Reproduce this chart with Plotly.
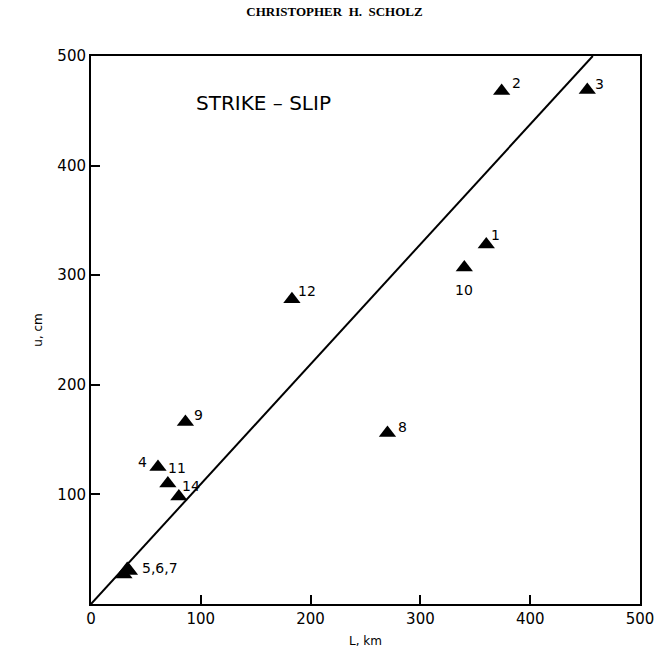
import plotly.graph_objects as go

# Strike-slip earthquakes: rupture length L (km) vs. average slip u (cm)
event_ids = ["1", "2", "3", "4", "5", "6", "7", "8", "9", "10", "11", "12", "14"]
length_km = [360, 374, 452, 61, 30, 33, 35, 270, 86, 340, 70, 183, 80]
slip_cm = [328, 468, 469, 125, 27, 32, 30, 156, 166, 307, 110, 278, 98]

# Labels drawn beside the triangles (5, 6, 7 share one label)
label_text = ["1", "2", "3", "4", "", "", "5,6,7", "8", "9", "10", "11", "12", "14"]
# Pixel offsets of each label from its triangle
label_dx = [9, 15, 12, -15, 0, 0, 31, 15, 13, 0, 9, 15, 12]
label_dy = [10, 8, 6, 5, 0, 0, 3, 6, 7, -22, 15, 8, 11]

# Fitted proportional line u = c * L
fit_L = [0, 457]
fit_u = [0, 500]

fig = go.Figure()

fig.add_trace(go.Scatter(
    x=fit_L, y=fit_u, mode="lines",
    line=dict(color="black", width=2),
    hoverinfo="skip", showlegend=False,
))

fig.add_trace(go.Scatter(
    x=length_km, y=slip_cm, mode="markers",
    marker=dict(symbol="triangle-up", size=15, color="black"),
    customdata=event_ids,
    hovertemplate="Event %{customdata}<br>L=%{x} km<br>u=%{y} cm<extra></extra>",
    showlegend=False,
))

label_font = dict(family="DejaVu Sans, sans-serif", size=14, color="black")
for L, u, txt, dx, dy in zip(length_km, slip_cm, label_text, label_dx, label_dy):
    if not txt:
        continue
    fig.add_annotation(
        x=L, y=u, text=txt, showarrow=False, font=label_font,
        xshift=dx, yshift=dy, xanchor="center", yanchor="middle",
    )

fig.add_annotation(
    x=157, y=457, text="STRIKE – SLIP", showarrow=False,
    font=dict(family="DejaVu Sans, sans-serif", size=20, color="black"),
)

axis_common = dict(
    showgrid=False, zeroline=False, showline=True, linecolor="black", linewidth=2,
    mirror=True, ticks="inside", ticklen=9, tickwidth=1.5, tickcolor="black",
    tickfont=dict(family="DejaVu Sans, sans-serif", size=15, color="black"),
    automargin=False,
)

fig.update_layout(
    width=669, height=654,
    margin=dict(l=91, r=29, t=56, b=50),
    paper_bgcolor="white", plot_bgcolor="white",
    title=dict(
        text="<b>CHRISTOPHER  H.  SCHOLZ</b>",
        x=0.5, xanchor="center", y=0.982, yanchor="middle",
        font=dict(family="Liberation Serif, Times New Roman, serif", size=13, color="black"),
    ),
    xaxis=dict(
        range=[0, 500], tickvals=[0, 100, 200, 300, 400, 500],
        title=dict(text="L, km", standoff=10,
                   font=dict(family="DejaVu Sans, sans-serif", size=12, color="black")),
        **axis_common,
    ),
    yaxis=dict(
        range=[0, 500], tickvals=[100, 200, 300, 400, 500],
        title=dict(text="u, cm", standoff=12,
                   font=dict(family="DejaVu Sans, sans-serif", size=12, color="black")),
        **axis_common,
    ),
)

fig.write_html("out.html")
